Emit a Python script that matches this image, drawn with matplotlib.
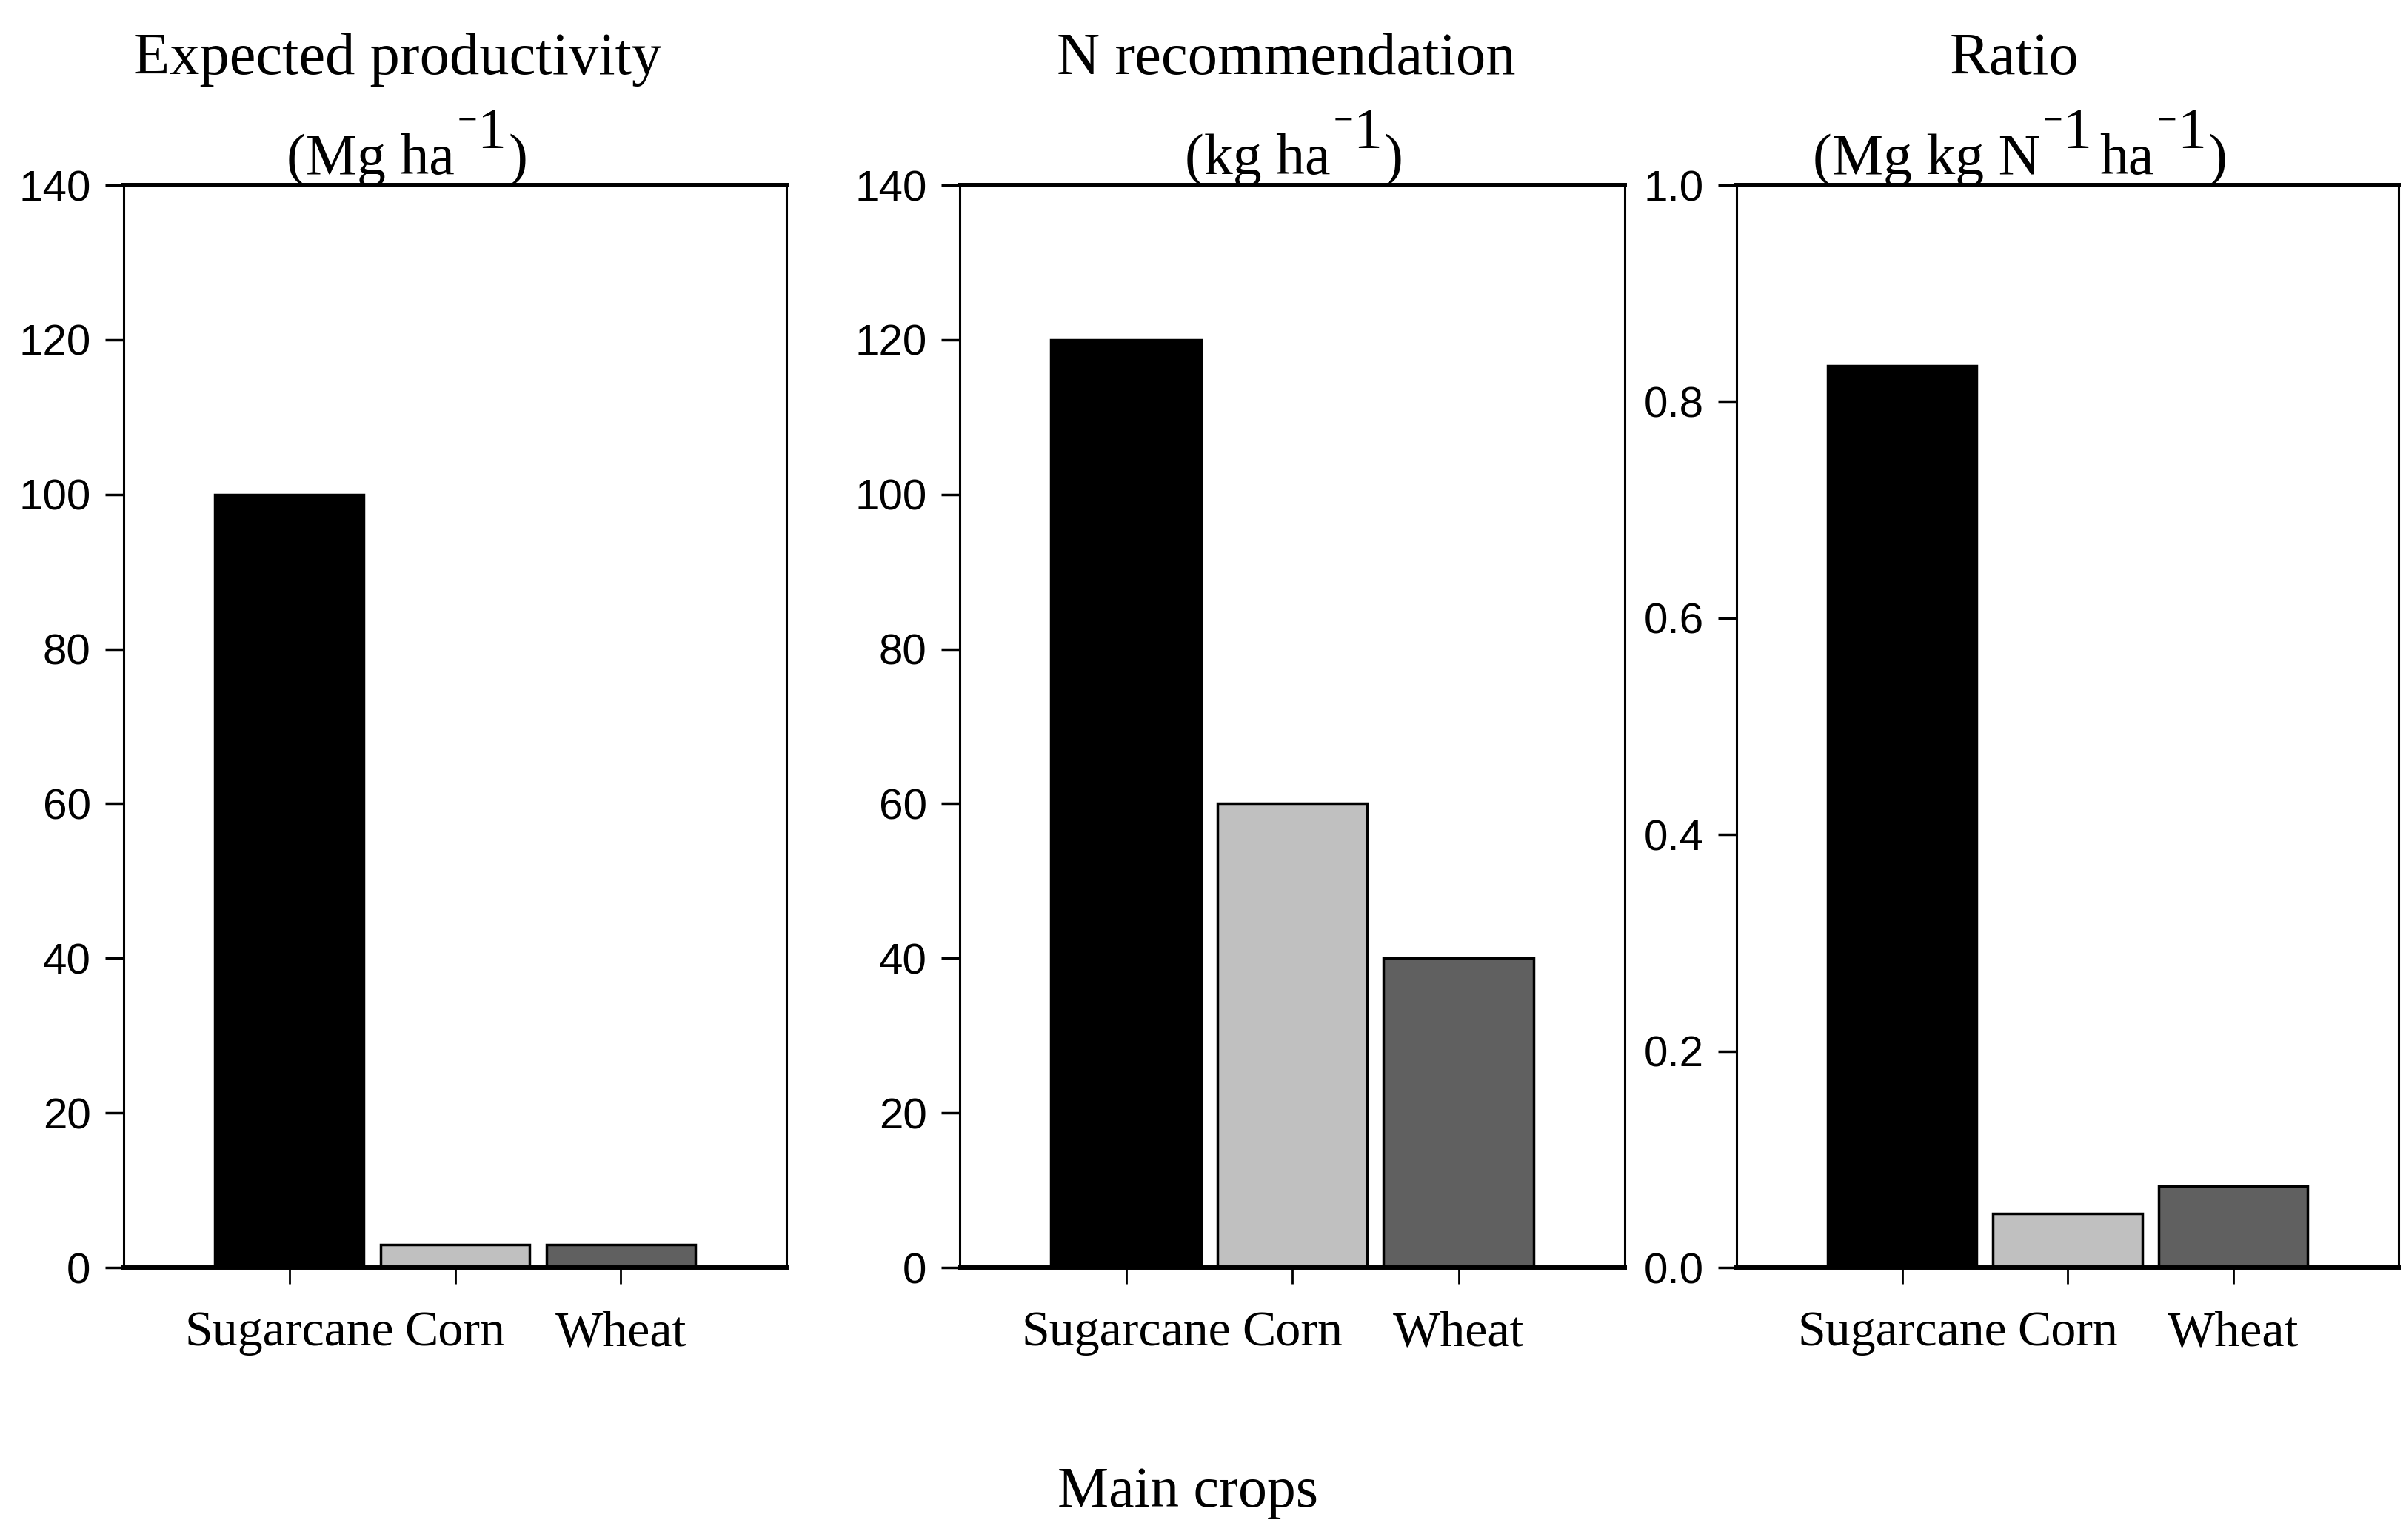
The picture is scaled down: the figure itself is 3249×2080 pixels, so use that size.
import matplotlib
matplotlib.use("Agg")
import matplotlib.pyplot as plt
from matplotlib.text import Annotation

crops = ["Sugarcane", "Corn", "Wheat"]
productivity = [100, 3, 3]
n_recommendation = [120, 60, 40]
ratio = [0.833, 0.05, 0.075]
bar_colors = ["#000000", "#C0C0C0", "#606060"]

W, H = 3249, 2080
fig = plt.figure(figsize=(W / 100, H / 100), dpi=100)

panels = [
    (167, 1062, productivity, (0, 140), [0, 20, 40, 60, 80, 100, 120, 140], "{:.0f}"),
    (1296, 2194, n_recommendation, (0, 140), [0, 20, 40, 60, 80, 100, 120, 140], "{:.0f}"),
    (2345, 3239, ratio, (0, 1.0), [0.0, 0.2, 0.4, 0.6, 0.8, 1.0], "{:.1f}"),
]
top_px, bot_px = 250, 1712

for left, right, vals, ylim, yticks, fmt in panels:
    ax = fig.add_axes([left / W, 1 - bot_px / H, (right - left) / W, (bot_px - top_px) / H])
    x = list(range(len(crops)))
    ax.bar(x, vals, width=0.9, color=bar_colors, edgecolor="black", linewidth=2.5)
    ax.set_xlim(-1, 3)
    ax.set_ylim(*ylim)
    ax.set_yticks(yticks)
    ax.set_yticklabels([fmt.format(v) for v in yticks], family="Liberation Sans", fontsize=42)
    ax.set_xticks(x)
    ax.set_xticklabels(crops, family="Liberation Serif", fontsize=49)
    ax.tick_params(axis="y", direction="out", length=18, width=2.5, pad=14)
    ax.tick_params(axis="x", direction="out", length=16, width=2, pad=26)
    for s in ["left", "right"]:
        ax.spines[s].set_linewidth(2.2)
    for s in ["top", "bottom"]:
        ax.spines[s].set_linewidth(4.3)

FS = 58
line1 = [(537, "Expected productivity"), (1737, "N recommendation"), (2720, "Ratio")]
for x1, t1 in line1:
    fig.text(x1 / W, 1 - 100 / H, t1, ha="center", va="baseline",
             family="Liberation Serif", fontsize=FS)

FS2 = 56
RAISE = 26
# pieces: (text, fontsize, raise_pts, gap_pts)
MINUS = ("\u2212", 34, RAISE + 16, 3)
ONE = ("1", FS2, RAISE, 0)
line2 = [
    (387, [("(Mg ha", FS2, 0, 0), MINUS, ONE, (")", FS2, 0, 2)]),
    (1600, [("(kg ha", FS2, 0, 0), MINUS, ONE, (")", FS2, 0, 2)]),
    (2448, [("(Mg kg N", FS2, 0, 0), MINUS, ONE, ("ha", FS2, 0, 8),
            MINUS, ONE, (")", FS2, 0, 2)]),
]
base_y = 1 - 235 / H
for xl, parts in line2:
    prev = None
    for txt, fs, rz, gap in parts:
        if prev is None:
            prev = fig.text(xl / W, base_y, txt, ha="left", va="baseline",
                            family="Liberation Serif", fontsize=fs)
        else:
            ann = Annotation(txt, xy=(1, base_y), xycoords=(prev, "figure fraction"),
                             xytext=(gap, rz), textcoords="offset points",
                             ha="left", va="baseline", family="Liberation Serif", fontsize=fs)
            fig.add_artist(ann)
            prev = ann

fig.text(1604 / W, 1 - 2035 / H, "Main crops", ha="center", va="baseline",
         family="Liberation Serif", fontsize=56)

fig.savefig("out.png", dpi=100)
